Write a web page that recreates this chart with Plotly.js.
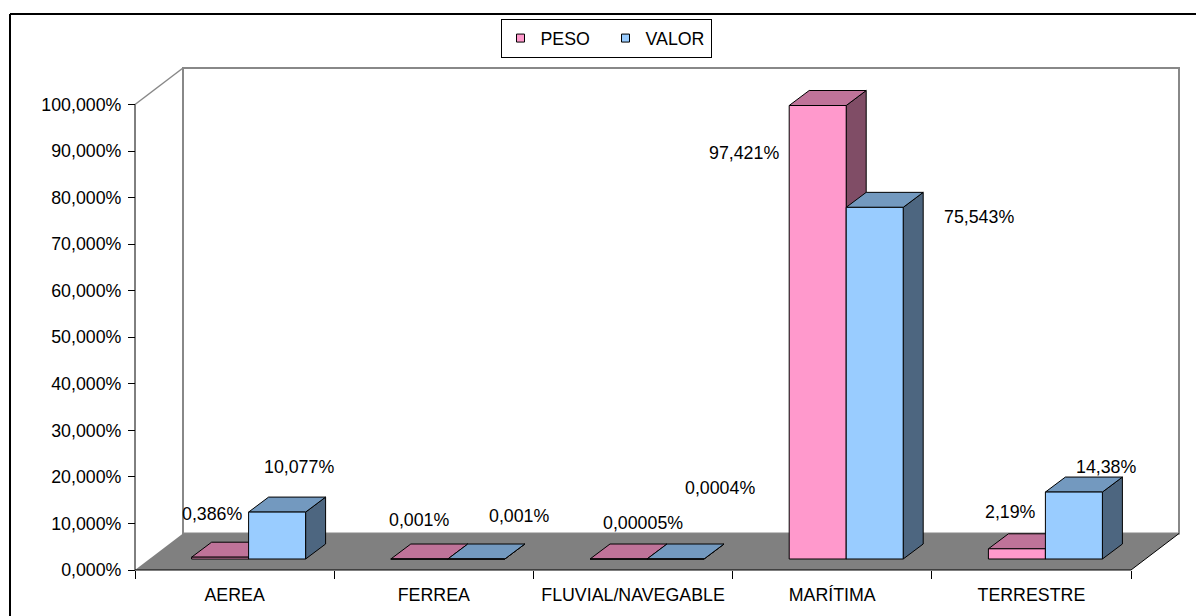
<!DOCTYPE html>
<html><head><meta charset="utf-8">
<script src="https://cdn.plot.ly/plotly-3.0.1.min.js"></script>
<style>html,body{margin:0;padding:0;background:#fff}#chart{width:1196px;height:616px}</style>
</head><body><div id="chart"></div>
<script>
// ---- data ----
const categories = ['AEREA', 'FERREA', 'FLUVIAL/NAVEGABLE', 'MARÍTIMA', 'TERRESTRE'];
const seriesNames = ['PESO', 'VALOR'];
const peso = [0.386, 0.001, 0.00005, 97.421, 2.19];
const valor = [10.077, 0.001, 0.0004, 75.543, 14.38];
const pesoLabels = ['0,386%', '0,001%', '0,00005%', '97,421%', '2,19%'];
const valorLabels = ['10,077%', '0,001%', '0,0004%', '75,543%', '14,38%'];
const yTickVals = [0, 10, 20, 30, 40, 50, 60, 70, 80, 90, 100];
const yTickText = ['0,000%', '10,000%', '20,000%', '30,000%', '40,000%', '50,000%', '60,000%', '70,000%', '80,000%', '90,000%', '100,000%'];

// ---- style / geometry (pixels) ----
const FONT = 'Liberation Sans, Arial, sans-serif';
const FS = 17.8;
const colors = {
  PESO: {front: '#FF99CC', top: '#BF7399', side: '#804D66'},
  VALOR: {front: '#99CCFF', top: '#7399BF', side: '#4D6680'}
};
const pad = 5;
const catPx = 199.2, pctPx = 4.655;
const floorDXpx = 48, floorDYpx = 36.5;
const Ux = catPx, Uy = pctPx;
const DX = floorDXpx / Ux, DY = floorDYpx / Uy;
const fx = 14 / Ux, fy = 11 / Uy;       // bar offset into depth
const bx = 20 / Ux, by = 15 / Uy;       // bar depth
const bw = 57 / Ux;                     // bar width
const nCat = categories.length;
const xMin = -0.5 - pad / Ux, xMax = nCat - 0.5 + DX + pad / Ux;
const yMin = -pad / Uy, yMax = 100 + DY + pad / Uy;
const plotW = (xMax - xMin) * Ux, plotH = (yMax - yMin) * Uy;
const mL = 130, mB = 41;
const mR = 1196 - mL - plotW, mT = 616 - mB - plotH;

// label offsets (px) relative to front-top centre of each bar
const pesoLabelShift = [[-8, 43], [0, 39], [24, 36], [-74, -47], [-6, 37]];
const valorLabelShift = [[22, 45], [43, 43], [44, 71], [104, -10], [32, 25]];

function buildFaces(vals, sign) {
  const fr = {x: [], y: []}, tp = {x: [], y: []}, sd = {x: [], y: []};
  vals.forEach((v, i) => {
    const x0 = sign < 0 ? i + fx - bw : i + fx;
    const x1 = x0 + bw;
    const yb = fy, yt = fy + v;
    fr.x.push(x0, x1, x1, x0, x0, null); fr.y.push(yb, yb, yt, yt, yb, null);
    tp.x.push(x0, x1, x1 + bx, x0 + bx, x0, null); tp.y.push(yt, yt, yt + by, yt + by, yt, null);
    sd.x.push(x1, x1 + bx, x1 + bx, x1, x1, null); sd.y.push(yb, yb + by, yt + by, yt, yb, null);
  });
  return {fr, tp, sd};
}

const traces = [];
[[peso, -1, 'PESO'], [valor, 1, 'VALOR']].forEach(([vals, sign, name]) => {
  const f = buildFaces(vals, sign);
  const c = colors[name];
  [['sd', c.side], ['tp', c.top], ['fr', c.front]].forEach(([k, col]) => {
    traces.push({
      type: 'scatter', mode: 'lines', x: f[k].x, y: f[k].y,
      fill: 'toself', fillcolor: col, line: {color: '#000', width: 1},
      hoverinfo: 'skip', showlegend: false, legendgroup: name
    });
  });
});
// legend entries
seriesNames.forEach(name => {
  traces.push({
    type: 'scatter', mode: 'markers', x: [null], y: [null], name: name, legendgroup: name,
    marker: {symbol: 'square', size: 8, color: colors[name].front, line: {color: '#000', width: 1}}
  });
});

const annotations = [];
peso.forEach((v, i) => annotations.push({
  x: i + fx - bw / 2, y: fy + v, xref: 'x', yref: 'y', text: pesoLabels[i], showarrow: false,
  xshift: pesoLabelShift[i][0], yshift: pesoLabelShift[i][1], font: {family: FONT, size: FS, color: '#000'}
}));
valor.forEach((v, i) => annotations.push({
  x: i + fx + bw / 2, y: fy + v, xref: 'x', yref: 'y', text: valorLabels[i], showarrow: false,
  xshift: valorLabelShift[i][0], yshift: valorLabelShift[i][1], font: {family: FONT, size: FS, color: '#000'}
}));

const L = -0.5, R = nCat - 0.5;
const shapes = [
  // back wall
  {type: 'rect', xref: 'x', yref: 'y', x0: L + DX, x1: R + DX, y0: DY, y1: 100 + DY,
   fillcolor: '#FFFFFF', line: {color: '#888888', width: 2}, layer: 'below'},
  // floor
  {type: 'path', xref: 'x', yref: 'y',
   path: `M${L},0 L${R},0 L${R + DX},${DY} L${L + DX},${DY} Z`,
   fillcolor: '#808080', line: {width: 0}, layer: 'below'},
  // side wall top edge
  {type: 'line', xref: 'x', yref: 'y', x0: L, y0: 100, x1: L + DX, y1: 100 + DY,
   line: {color: '#888888', width: 1.5}, layer: 'below'},
  // front floor edges
  {type: 'line', xref: 'x', yref: 'y', x0: L, y0: 0, x1: R, y1: 0, line: {color: '#000', width: 1}, layer: 'below'},
  {type: 'line', xref: 'x', yref: 'y', x0: R, y0: 0, x1: R + DX, y1: DY, line: {color: '#000', width: 1}, layer: 'below'},
  // value axis line
  {type: 'line', xref: 'x', yref: 'y', x0: L, y0: 0, x1: L, y1: 100, line: {color: '#000', width: 1}},
  // chart frame (left & top)
  {type: 'line', xref: 'paper', yref: 'paper', x0: (10 - mL) / plotW, x1: (10 - mL) / plotW,
   y0: (616 - mB - 14) / plotH, y1: -mB / plotH, line: {color: '#000', width: 2}},
  {type: 'line', xref: 'paper', yref: 'paper', x0: (10 - mL) / plotW, x1: (1196 - mL) / plotW,
   y0: (616 - mB - 14) / plotH, y1: (616 - mB - 14) / plotH, line: {color: '#000', width: 2}}
];

const layout = {
  width: 1196, height: 616,
  margin: {l: mL, r: mR, t: mT, b: mB, pad: 0},
  paper_bgcolor: '#FFFFFF', plot_bgcolor: 'rgba(0,0,0,0)',
  font: {family: FONT, size: FS, color: '#000'},
  showlegend: true,
  legend: {
    orientation: 'h', x: (606 - mL) / plotW, xanchor: 'center', y: (616 - mB - 19) / plotH, yanchor: 'top',
    bordercolor: '#000', borderwidth: 1, bgcolor: '#FFFFFF', font: {family: FONT, size: FS},
    itemwidth: 30, tracegroupgap: 0, entrywidth: 60, entrywidthmode: 'pixels'
  },
  xaxis: {
    range: [xMin, xMax], anchor: 'free', position: pad / plotH,
    tickmode: 'array', tickvals: categories.map((c, i) => i), ticktext: categories,
    ticks: '', ticklabelstandoff: 12, showgrid: false, zeroline: false, showline: false,
    tickfont: {family: FONT, size: FS, color: '#000'},
    minor: {tickmode: 'array', tickvals: categories.map((c, i) => i - 0.5).concat([R]),
            ticks: 'outside', ticklen: 8, tickcolor: '#000', tickwidth: 1, showgrid: false},
    fixedrange: true
  },
  yaxis: {
    range: [yMin, yMax], anchor: 'free', position: pad / plotW,
    tickmode: 'array', tickvals: yTickVals, ticktext: yTickText,
    ticks: 'outside', ticklen: 7, tickcolor: '#000', tickwidth: 1, ticklabelstandoff: 3,
    showgrid: false, zeroline: false, showline: false,
    tickfont: {family: FONT, size: FS, color: '#000'}, fixedrange: true
  },
  shapes: shapes,
  annotations: annotations
};

Plotly.newPlot('chart', traces, layout, {displayModeBar: false, staticPlot: true});
</script>
</body></html>
